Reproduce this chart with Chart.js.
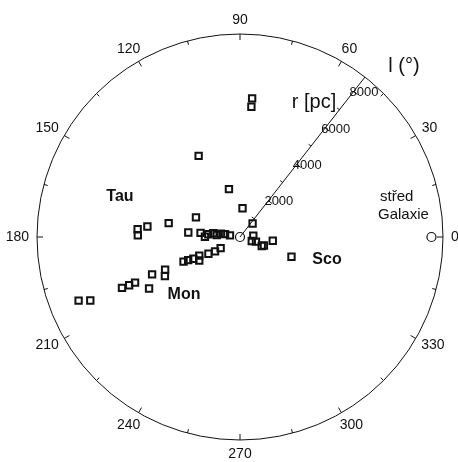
<!DOCTYPE html>
<html>
<head>
<meta charset="utf-8">
<script src="https://cdn.jsdelivr.net/npm/chart.js@4"></script>
<style>
  body { margin: 0; background: #fff; }
</style>
</head>
<body>
<canvas id="map" width="458" height="462"></canvas>
<script>
// galactic longitude l (deg) and distance r (pc) of the objects
const longitudes = [85, 85, 117, 103, 85, 47, 156, 169, 173.5, 175.7, 179, 175, 174, 179.5, 175, 172,
  175, 170, 169, 171, 6, 341, 344, 337.5, 340.5, 353.5, 339, 210, 210, 208, 204.5, 210, 205, 204,
  203.5, 203.5, 207.5, 203, 209.5, 203.5, 203.5, 203.3, 203, 201.5];
const distances = [6030, 5670, 3950, 2130, 1250, 800, 2090, 3150, 4040, 4450, 4430, 2250, 1720, 1520, 1380, 1170,
  1010, 840, 660, 440, 580, 540, 720, 1020, 1100, 1430, 2390, 970, 1250, 1550, 1940, 2040, 2230, 2460,
  2670, 3540, 3670, 4140, 4530, 4960, 5240, 5570, 7050, 7520];

const sunPos = [0, 0];          // l, r
const centerPos = [0, 8300];    // galactic centre
const angleLabels = [0, 30, 60, 90, 120, 150, 180, 210, 240, 270, 300, 330];
const radialTicks = [2000, 4000, 6000, 8000];
const rMax = 8800;
const radialAxisAngle = 52;

const FONT = '"Liberation Sans", Arial, sans-serif';
const INK = '#111';

const toXY = (l, r) => {
  const a = l * Math.PI / 180;
  return { x: r * Math.cos(a), y: r * Math.sin(a) };
};

const polarFrame = {
  id: 'polarFrame',
  beforeDatasetsDraw(chart) {
    const { ctx, scales: { x, y } } = chart;
    const cx = x.getPixelForValue(0);
    const cy = y.getPixelForValue(0);
    const R = x.getPixelForValue(rMax) - cx;

    ctx.save();
    ctx.strokeStyle = INK;
    ctx.lineWidth = 1;

    // outer circle
    ctx.beginPath();
    ctx.arc(cx, cy, R, 0, Math.PI * 2);
    ctx.stroke();

    // longitude ticks every 15 deg
    for (let d = 0; d < 360; d += 15) {
      const a = d * Math.PI / 180;
      const len = d % 30 === 0 ? 6 : 4;
      ctx.beginPath();
      ctx.moveTo(cx + R * Math.cos(a), cy - R * Math.sin(a));
      ctx.lineTo(cx + (R - len) * Math.cos(a), cy - (R - len) * Math.sin(a));
      ctx.stroke();
    }

    // longitude labels
    ctx.fillStyle = INK;
    ctx.font = '14px ' + FONT;
    ctx.textAlign = 'center';
    ctx.textBaseline = 'middle';
    angleLabels.forEach(d => {
      const a = d * Math.PI / 180;
      const txt = String(d);
      const w = ctx.measureText(txt).width;
      const px = cx + (R + 8) * Math.cos(a) + (w / 2) * Math.cos(a);
      const py = cy - (R + 8) * Math.sin(a) - 6 * Math.sin(a);
      ctx.fillText(txt, px, py);
    });

    // radial axis
    const ra = radialAxisAngle * Math.PI / 180;
    const ux = Math.cos(ra), uy = -Math.sin(ra);
    const nx = Math.sin(ra), ny = Math.cos(ra); // perpendicular, to the right side
    ctx.beginPath();
    ctx.moveTo(cx, cy);
    ctx.lineTo(cx + R * ux, cy + R * uy);
    ctx.stroke();

    for (let v = 1000; v < rMax; v += 1000) {
      const d = x.getPixelForValue(v) - cx;
      const px = cx + d * ux, py = cy + d * uy;
      const major = v % 2000 === 0;
      ctx.beginPath();
      if (major) {
        ctx.moveTo(px, py);
        ctx.lineTo(px + 5 * nx, py + 5 * ny);
      } else {
        ctx.moveTo(px - 3 * nx, py - 3 * ny);
        ctx.lineTo(px, py);
      }
      ctx.stroke();
    }

    ctx.font = '13px ' + FONT;
    ctx.textAlign = 'left';
    radialTicks.forEach(v => {
      const d = x.getPixelForValue(v) - cx;
      ctx.fillText(String(v), cx + d * ux - 4, cy + d * uy + 1);
    });
    ctx.restore();
  },
  afterDraw(chart) {
    const { ctx } = chart;
    ctx.save();
    ctx.fillStyle = INK;
    ctx.textBaseline = 'middle';
    ctx.textAlign = 'center';

    ctx.font = '20px ' + FONT;
    ctx.fillText('l (°)', 404, 66);
    ctx.fillText('r [pc]', 314, 102);

    ctx.font = '15px ' + FONT;
    ctx.textAlign = 'left';
    ctx.fillText('střed', 380, 197);
    ctx.fillText('Galaxie', 378, 215);

    ctx.font = 'bold 16px ' + FONT;
    ctx.textAlign = 'center';
    ctx.fillText('Tau', 120, 197);
    ctx.fillText('Mon', 184, 295);
    ctx.fillText('Sco', 327, 260);
    ctx.restore();
  }
};

try {
  new Chart(document.getElementById('map'), {
    type: 'scatter',
    data: {
      datasets: [
        {
          label: 'objects',
          data: longitudes.map((l, i) => toXY(l, distances[i])),
          pointStyle: 'rect',
          pointRadius: 4.5,
          borderColor: INK,
          borderWidth: 2,
          backgroundColor: 'rgba(255,255,255,0)'
        },
        {
          label: 'Slunce',
          data: [toXY(sunPos[0], sunPos[1])],
          pointStyle: 'circle',
          pointRadius: 4.5,
          borderColor: INK,
          borderWidth: 1.2,
          backgroundColor: 'rgba(255,255,255,0)'
        },
        {
          label: 'střed Galaxie',
          data: [toXY(centerPos[0], centerPos[1])],
          pointStyle: 'circle',
          pointRadius: 4.5,
          borderColor: INK,
          borderWidth: 1.2,
          backgroundColor: 'rgba(255,255,255,0)'
        }
      ]
    },
    options: {
      responsive: false,
      animation: false,
      layout: { padding: { left: 37, right: 15, top: 34, bottom: 22 } },
      scales: {
        x: { type: 'linear', min: -rMax, max: rMax, display: false },
        y: { type: 'linear', min: -rMax, max: rMax, display: false }
      },
      plugins: {
        legend: { display: false },
        tooltip: { enabled: false }
      }
    },
    plugins: [polarFrame]
  });
} catch (error) {
  console.error('Error creating chart:', error);
}
</script>
</body>
</html>
